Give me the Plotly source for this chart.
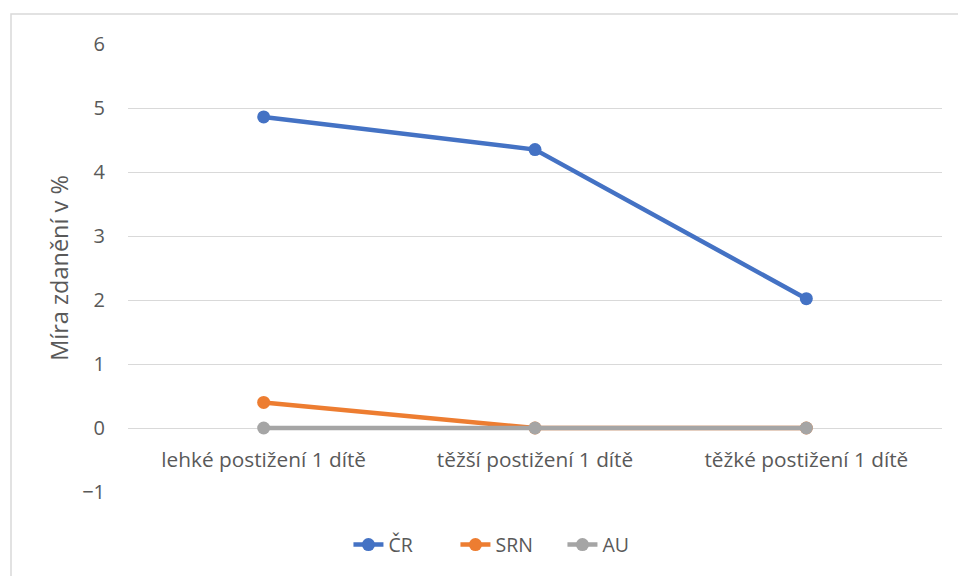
import plotly.graph_objects as go

categories = ["lehké postižení 1 dítě", "těžší postižení 1 dítě", "těžké postižení 1 dítě"]
cr = [4.86, 4.35, 2.02]
srn = [0.4, 0.0, 0.0]
au = [0.0, 0.0, 0.0]
series = [("ČR", cr, "#4472C4"), ("SRN", srn, "#ED7D31"), ("AU", au, "#A5A5A5")]

fig = go.Figure()
for name, vals, col in series:
    fig.add_trace(go.Scatter(
        x=categories, y=vals, name=name, mode="lines+markers",
        line=dict(color=col, width=4.5),
        marker=dict(color=col, size=13),
    ))

font = "'Open Sans', sans-serif"
x0p, x1p, y0p, y1p = -117/814, 1 + 16/814, -120/448, 1 + 30/448
fig.update_layout(
    width=959, height=576,
    margin=dict(l=128, r=17, t=44, b=84, autoexpand=False),
    paper_bgcolor="white", plot_bgcolor="white",
    font=dict(family=font, size=16, color="#595959"),
    showlegend=True,
    legend=dict(orientation="h", x=0.468, xanchor="center", xref="paper",
                y=-0.118, yanchor="middle", font=dict(size=19.5, color="#595959"),
                entrywidth=62, tracegroupgap=0),
    xaxis=dict(
        showgrid=False, zeroline=False, showline=False,
        anchor="free", position=1/7, ticks="", ticklabelstandoff=17,
        tickfont=dict(size=20.8, color="#595959"),
        range=[-0.5, 2.5],
    ),
    yaxis=dict(
        range=[-1, 6], dtick=1, tick0=0,
        showgrid=True, gridcolor="#D9D9D9", gridwidth=1.3,
        zeroline=False, showline=False, ticks="",
        ticklabelstandoff=22,
        tickfont=dict(size=20, color="#595959"),
        title=dict(text="Míra zdanění v %", font=dict(size=23.5, color="#595959"), standoff=6),
    ),
    shapes=[dict(type="path", xref="paper", yref="paper",
                 path=f"M {x0p},{y0p} L {x0p},{y1p} L {x1p},{y1p}",
                 line=dict(color="#D9D9D9", width=1.5), layer="below")],
)

fig.write_html(
    "out.html",
    config={"displayModeBar": False},
    post_script="document.body.style.margin='0';document.body.style.overflow='hidden';",
)
